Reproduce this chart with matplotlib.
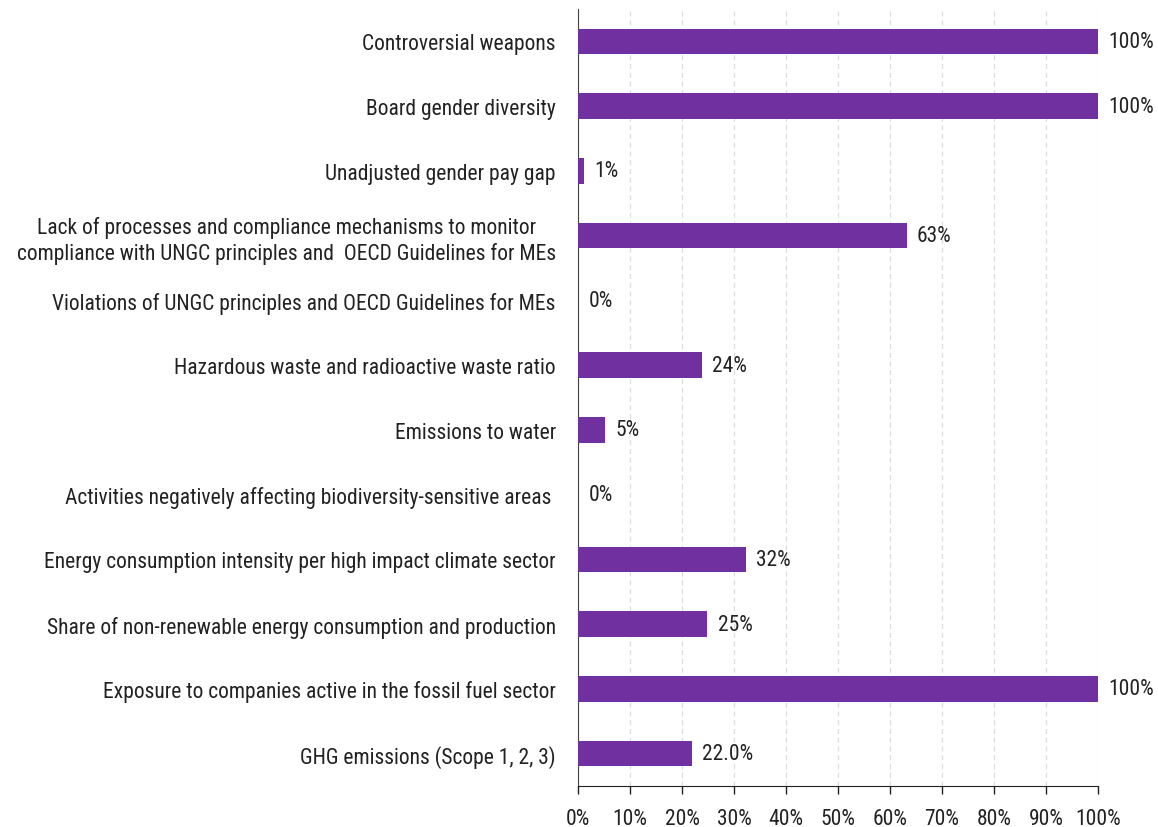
import matplotlib
matplotlib.use("Agg")
import matplotlib.pyplot as plt
from matplotlib import font_manager

names = {f.name for f in font_manager.fontManager.ttflist}
fam = 'Roboto Condensed' if 'Roboto Condensed' in names else ('Liberation Sans Narrow' if 'Liberation Sans Narrow' in names else 'Roboto')
plt.rcParams['font.family'] = [fam, 'DejaVu Sans']

categories = [
    "Controversial weapons",
    "Board gender diversity",
    "Unadjusted gender pay gap",
    "Lack of processes and compliance mechanisms to monitor\ncompliance with UNGC principles and  OECD Guidelines for MEs",
    "Violations of UNGC principles and OECD Guidelines for MEs",
    "Hazardous waste and radioactive waste ratio",
    "Emissions to water",
    "Activities negatively affecting biodiversity-sensitive areas ",
    "Energy consumption intensity per high impact climate sector",
    "Share of non-renewable energy consumption and production",
    "Exposure to companies active in the fossil fuel sector",
    "GHG emissions (Scope 1, 2, 3)",
]
values = [100, 100, 1.2, 63.2, 0, 23.8, 5.2, 0, 32.3, 24.9, 100, 21.9]
value_labels = ["100%", "100%", "1%", "63%", "0%", "24%", "5%", "0%", "32%", "25%", "100%", "22.0%"]
xticks = [0, 10, 20, 30, 40, 50, 60, 70, 80, 90, 100]
xtick_labels = [f"{t}%" for t in xticks]

FS = 15.5
fig = plt.figure(figsize=(11.58, 8.28), dpi=100)
ax = fig.add_axes([578/1158, 1 - 787/828, (1098-578)/1158, (787-10)/828])

pos = list(range(len(categories)))
ax.barh(pos, values, height=0.39, color='#7030A0', zorder=3)
for p, v, lab in zip(pos, values, value_labels):
    ax.annotate(lab, (v, p), xytext=(7.5, 0), textcoords='offset points',
                va='center', ha='left', fontsize=FS, color='#222222')

ax.set_ylim(len(categories) - 0.5, -0.5)
ax.set_xlim(0, 100)
ax.set_yticks(pos)
ax.set_yticklabels(categories, fontsize=FS, color='#222222', ha='right', multialignment='center')
ax.tick_params(axis='y', length=0, pad=16)
ax.set_xticks(xticks)
ax.set_xticklabels(xtick_labels, fontsize=FS, color='#222222')
ax.tick_params(axis='x', length=5.5, width=1, direction='out', pad=10, color='#222222')
ax.grid(axis='x', linestyle=(0, (4, 3)), color='#dedede', linewidth=0.9, zorder=0)
for s in ['top', 'right']:
    ax.spines[s].set_visible(False)
ax.spines['left'].set_color('#444444')
ax.spines['bottom'].set_color('#222222')

fig.savefig('out.png', dpi=100)
